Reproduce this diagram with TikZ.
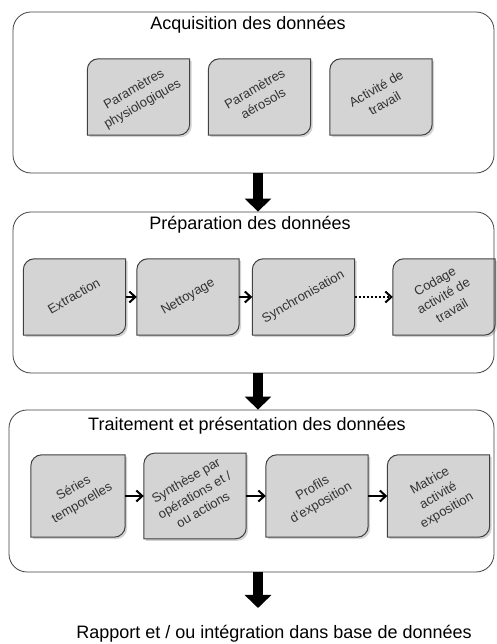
\documentclass[tikz,border=0pt]{standalone}
\usepackage{fontspec}
\setmainfont{Liberation Sans}
\usetikzlibrary{arrows.meta,backgrounds,shadows}

\newcommand{\tilt}[1]{\rotatebox{30}{\begin{tabular}{@{}c@{}}#1\end{tabular}}}

\begin{document}
\begin{tikzpicture}[
x=1pt,y=1pt,
stage/.style={
draw=black!75,
line width=0.8pt,
rounded corners=18pt
},
heading/.style={
font=\fontsize{18}{21}\selectfont,
inner sep=0pt
},
task/.style={
minimum width=102pt,
minimum height=76pt,
inner sep=0pt,
align=center,
text=black!80,
font=\fontsize{13}{17}\selectfont
},
card/.style={
fill=black!17,
draw=black!75,
line width=1pt,
drop shadow={shadow xshift=2pt,shadow yshift=-2pt,opacity=0.35}
},
bigarrow/.style={
line width=10pt,
-{Triangle[length=13pt,width=26pt]}
},
flow/.style={
line width=2pt,
-{Straight Barb[length=6pt,width=11pt]}
}
]
\useasboundingbox (0,0) rectangle (496,644);

\node[stage, minimum width=481pt, minimum height=161pt] (a) at (253.5,551.5) {};
\node[stage, minimum width=481pt, minimum height=161pt] (b) at (253.5,351.5) {};
\node[stage, minimum width=485pt, minimum height=162pt] (c) at (251.5,153) {};

\node[heading] (at) at (248,619) {Acquisition des données};
\node[heading] (bt) at (250,419) {Préparation des données};
\node[heading] (ct) at (247,218) {Traitement et présentation des données};

\node[task] (a1) at (138.5,547) {\tilt{Paramètres\\physiologiques}};
\node[task] (a2) at (259.5,547) {\tilt{Paramètres\\aérosols}};
\node[task] (a3) at (381,547) {\tilt{Activité de\\travail}};

\node[task] (b1) at (74.5,347) {\tilt{Extraction}};
\node[task] (b2) at (188,347) {\tilt{Nettoyage}};
\node[task] (b3) at (303.5,347) {\tilt{Synchronisation}};
\node[task] (b4) at (444,347) {\tilt{Codage\\activité de\\travail}};

\node[task, minimum height=82pt, minimum width=94pt] (c1) at (78,148) {\tilt{Séries\\temporelles}};
\node[task, minimum height=82pt] (c2) at (195,148) {\tilt{Synthèse par\\opérations et /\\ou actions}};
\node[task, minimum height=82pt] (c3) at (317,148) {\tilt{Profils\\d'exposition}};
\node[task, minimum height=82pt] (c4) at (438.5,148) {\tilt{Matrice\\activité\\exposition}};

\node[heading] (r) at (274,10) {Rapport et / ou intégration dans base de données};

\begin{scope}[on background layer]
\foreach \n in {a1,a2,a3,b1,b2,b3,b4,c1,c2,c3,c4}
\path[card] (\n.south west) -- ([yshift=-11pt]\n.north west)
arc[start angle=180,end angle=90,radius=11pt] -- (\n.north east)
-- ([yshift=11pt]\n.south east)
arc[start angle=0,end angle=-90,radius=11pt] -- cycle;
\end{scope}

\coordinate (axis) at (258,0);
\coordinate (tip) at (258,36);

\draw[bigarrow] (a.south -| axis) -- (b.north -| axis);
\draw[bigarrow] (b.south -| axis) -- (c.north -| axis);
\draw[bigarrow] (c.south -| axis) -- (tip);

\draw[flow] (b1) -- (b2);
\draw[flow] (b2) -- (b3);
\draw[flow, dotted] (b3) -- (b4);
\draw[flow] (c1) -- (c2);
\draw[flow] (c2) -- (c3);
\draw[flow] (c3) -- (c4);

\end{tikzpicture}
\end{document}
